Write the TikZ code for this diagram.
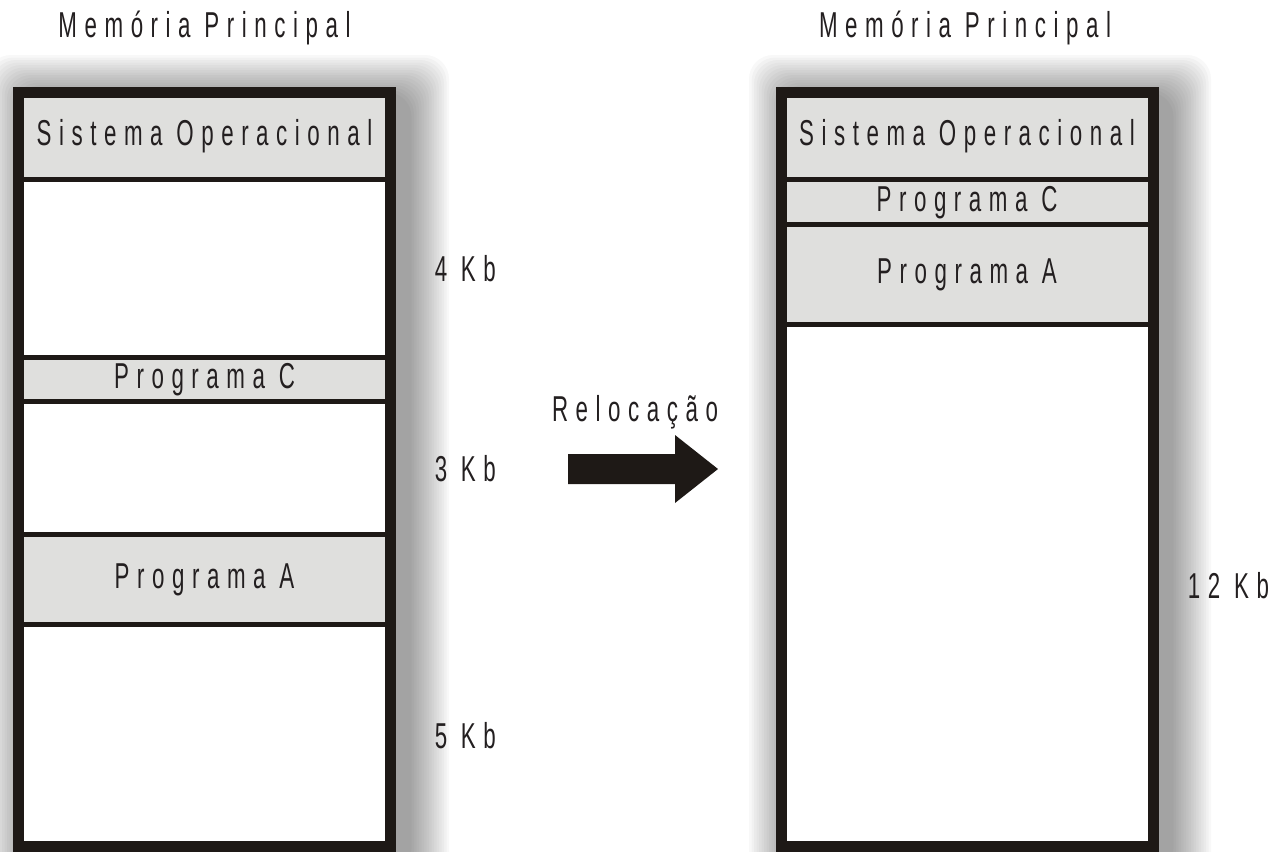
\documentclass[tikz,border=0pt]{standalone}
\usepackage{fontspec}
\usepackage{tikz}
\usetikzlibrary{positioning}
\newfontfamily\memfont[FakeStretch=0.62,LetterSpace=21]{Liberation Sans}
\definecolor{framecol}{RGB}{30,25,22}
\definecolor{segcol}{RGB}{223,223,221}
\definecolor{txtcol}{RGB}{35,31,32}
\tikzset{
  memtext/.style={font=\memfont\fontsize{27}{30}\selectfont, text=txtcol, inner sep=0pt},
  segment/.style={memtext, rectangle, minimum width=279pt, outer sep=0pt, fill=segcol},
  freeseg/.style={segment, fill=white},
  divider/.style={framecol, line width=3.75pt},
  frame/.style={framecol, line width=8.25pt},
  shadowbox/.style={black, opacity=0.028, rounded corners=18pt}
}

\begin{document}
\begin{tikzpicture}[x=0.75pt,y=0.75pt,yscale=-1,xscale=1]
\useasboundingbox (0,0) rectangle (1279,851);

%Shape: soft shadows
\foreach \bx in {13,775}
  \foreach \s in {1,...,16}
    \fill[shadowbox] (\bx+14-2.5*\s,95-2.5*\s) rectangle (\bx+396+2.5*\s,870+2.5*\s);

% left memory
\node[segment, minimum height=65.6pt, anchor=north] (soL) at (204.5,92.5) {Sistema Operacional};
\node[freeseg, minimum height=133.5pt, below=0pt of soL] (freeL1) {};
\node[segment, minimum height=33pt, below=0pt of freeL1] (pcL) {Programa C};
\node[freeseg, minimum height=99.75pt, below=0pt of pcL] (freeL2) {};
\node[segment, minimum height=67.1pt, below=0pt of freeL2] (paL) {Programa A};
\node[freeseg, minimum height=166.5pt, below=0pt of paL] (freeL3) {};

\draw[divider] (soL.south west) -- (soL.south east);
\draw[divider] (pcL.north west) -- (pcL.north east);
\draw[divider] (pcL.south west) -- (pcL.south east);
\draw[divider] (paL.north west) -- (paL.north east);
\draw[divider] (paL.south west) -- (paL.south east);
\draw[frame] (soL.north west) rectangle (freeL3.south east);

% right memory
\node[segment, minimum height=65.6pt, anchor=north] (soR) at (967,92.5) {Sistema Operacional};
\node[segment, minimum height=33.4pt, below=0pt of soR] (pcR) {Programa C};
\node[segment, minimum height=75pt, below=0pt of pcR] (paR) {Programa A};
\node[freeseg, minimum height=391.5pt, below=0pt of paR] (freeR) {};

\draw[divider] (soR.south west) -- (soR.south east);
\draw[divider] (pcR.south west) -- (pcR.south east);
\draw[divider] (paR.south west) -- (paR.south east);
\draw[frame] (soR.north west) rectangle (freeR.south east);

% Text Node
\node[memtext] (headL) at (204.5,28) {Memória Principal};
% Text Node
\node[memtext] (headR) at (965,28) {Memória Principal};
% Text Node
\node[memtext, right=33pt of freeL1] (kbL1) {4 Kb};
% Text Node
\node[memtext, right=33pt of freeL2] (kbL2) {3 Kb};
% Text Node
\node[memtext, right=33pt of freeL3] (kbL3) {5 Kb};
% Text Node
\node[memtext, right=26pt of freeR] (kbR) {12 Kb};
% Text Node
\node[memtext] (reloc) at (635,412) {Relocação};

%Shape: Right Arrow
\fill[framecol] (568,454) -- (675,454) -- (675,435) -- (718,469) -- (675,503) -- (675,484) -- (568,484) -- cycle;
\end{tikzpicture}
\end{document}
